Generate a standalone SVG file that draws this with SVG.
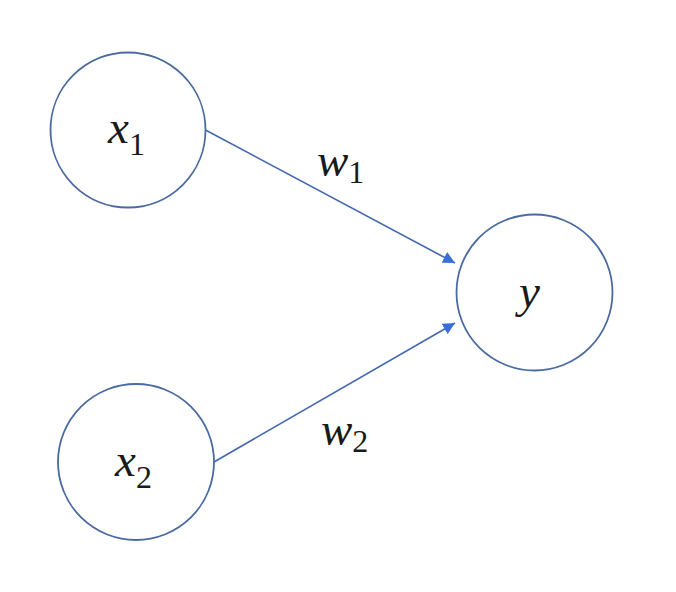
<svg xmlns="http://www.w3.org/2000/svg" width="676" height="592" viewBox="0 0 676 592">
<style>
.node{fill:#ffffff;stroke:#4a6aa0;stroke-width:1.8}
.edge{stroke:#4468b0;stroke-width:1.6;fill:none}
.v{font-family:"Liberation Serif","DejaVu Serif",serif;font-style:italic;font-size:47px;fill:#1a1a1a}
.s{font-family:"Liberation Serif","DejaVu Serif",serif;font-size:32px;fill:#1a1a1a}
</style>
<defs>
<marker id="arr" viewBox="0 0 10 10" refX="10" refY="5" markerWidth="12" markerHeight="12" markerUnits="userSpaceOnUse" orient="auto">
<path d="M0,0 L10,5 L0,10 z" fill="#3a6fd8"/>
</marker>
</defs>
<rect width="676" height="592" fill="#ffffff"/>
<g id="connectors">
<line class="edge" x1="205.5" y1="130" x2="455" y2="263" marker-end="url(#arr)"/>
<line class="edge" x1="214" y1="462" x2="455" y2="323" marker-end="url(#arr)"/>
<text class="v" x="317" y="176">w<tspan class="s" dy="7" font-style="normal">1</tspan></text>
<text class="v" x="321" y="445">w<tspan class="s" dy="7" font-style="normal">2</tspan></text>
</g>
<g id="node-x1">
<circle class="node" cx="128" cy="130" r="77.5"/>
<text class="v" x="108" y="143">x<tspan class="s" dy="12" font-style="normal">1</tspan></text>
</g>
<g id="node-x2">
<circle class="node" cx="136" cy="462" r="78"/>
<text class="v" x="115" y="476">x<tspan class="s" dy="12" font-style="normal">2</tspan></text>
</g>
<g id="node-y">
<circle class="node" cx="534.5" cy="292.5" r="78"/>
<text class="v" x="519" y="307">y</text>
</g>
</svg>
